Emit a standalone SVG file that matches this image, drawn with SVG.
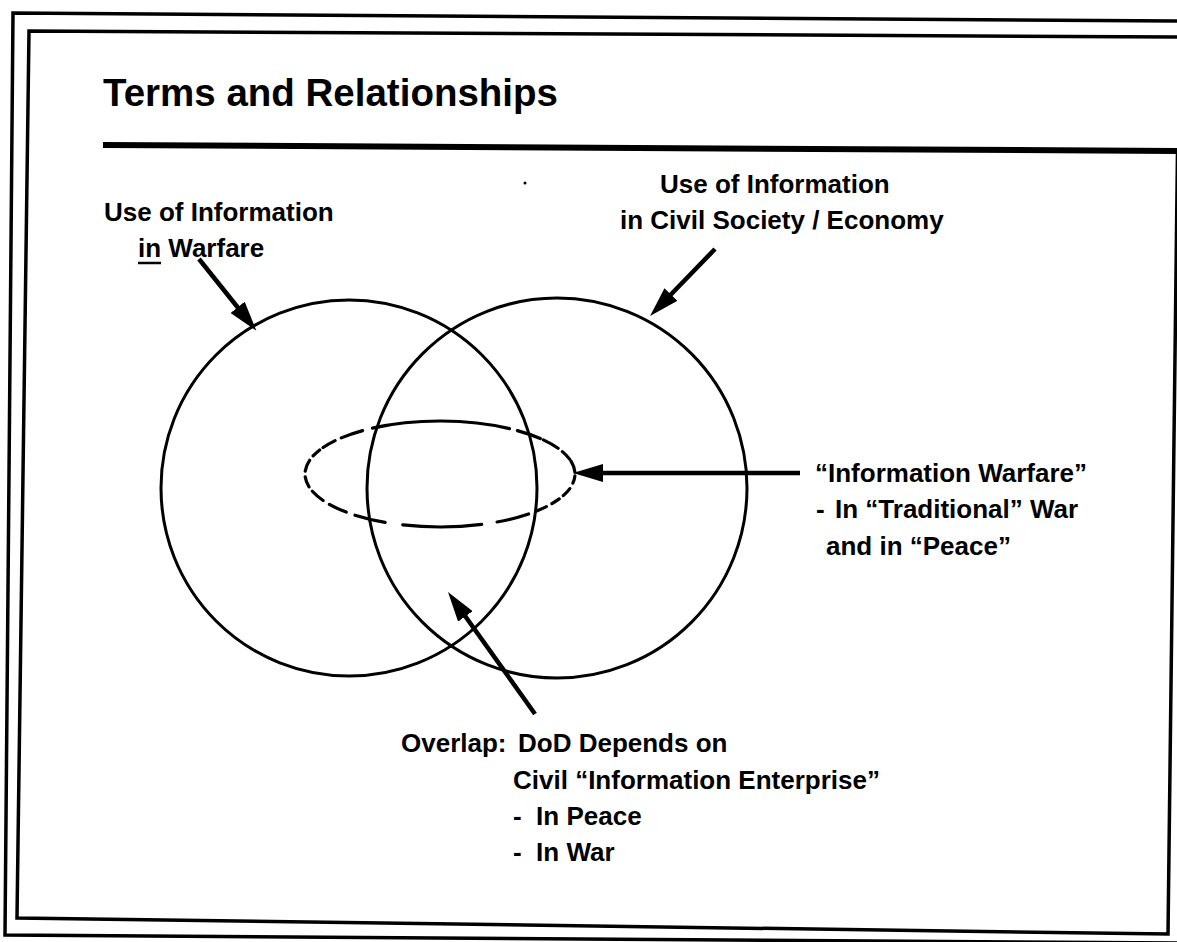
<svg xmlns="http://www.w3.org/2000/svg" width="1177" height="942" viewBox="0 0 1177 942">
<style>
.t{font-family:"Liberation Sans",Arial,Helvetica,sans-serif;font-weight:bold;font-size:26px;fill:#000}
.title{font-size:38.5px}
.frame{fill:none;stroke:#000;stroke-width:3.5}
.circ{fill:none;stroke:#000;stroke-width:3}
.dash{fill:none;stroke:#000;stroke-width:3.2;stroke-linecap:round}
.conn{stroke:#000;stroke-width:4.5;fill:none}
</style>
<defs>
<marker id="ah" markerUnits="userSpaceOnUse" markerWidth="32" markerHeight="20" refX="15" refY="9" orient="auto">
<path d="M0,0 L30,9 L0,18 Z" fill="#000"/>
</marker>
</defs>
<rect width="1177" height="942" fill="#fff"/>
<g id="frame">
<polyline class="frame" points="1177,21 13,13 5,935 1177,943"/>
<polyline class="frame" points="1177,37 29,31 17,918 1168,934 1177.5,150"/>
<line x1="103" y1="145" x2="1177" y2="151" stroke="#000" stroke-width="6"/>
<circle cx="525" cy="183" r="1.5" fill="#000"/>
</g>
<g id="title">
<text class="t title" x="103" y="106">Terms and Relationships</text>
</g>
<g id="warfare-circle">
<circle class="circ" cx="349" cy="488" r="188"/>
</g>
<g id="civil-circle">
<circle class="circ" cx="557" cy="488" r="190"/>
</g>
<g id="info-warfare-ellipse">
<path class="dash" d="M574.9,475.8 A135,53 0 0 1 572.9,483.2
M569.8,488.6 A135,53 0 0 1 563.3,495.6
M559.2,498.9 A135,53 0 0 1 551.9,503.6
M546.4,506.6 A135,53 0 0 1 537.1,510.8
M528.6,514.0 A135,53 0 0 1 497.1,522.0
M481.7,524.4 A135,53 0 0 1 402.8,524.9
M385.1,522.4 A135,53 0 0 1 355.0,515.2
M346.2,512.1 A135,53 0 0 1 329.4,504.4
M323.1,500.5 A135,53 0 0 1 312.4,491.3
M309.0,486.8 A135,53 0 0 1 305.2,476.8
M305.2,471.2 A135,53 0 0 1 309.6,460.3
M313.1,455.9 A135,53 0 0 1 319.7,449.9
M323.1,447.5 A135,53 0 0 1 335.1,440.6
M341.3,437.9 A135,53 0 0 1 362.6,430.6
M372.5,428.1 A135,53 0 0 1 509.5,428.6
M517.4,430.6 A135,53 0 0 1 540.3,438.5
M543.4,439.9 A135,53 0 0 1 558.1,448.3
M562.4,451.6 A135,53 0 0 1 569.8,459.4
M571.0,461.2 A135,53 0 0 1 574.9,472.2"/>
</g>
<g id="label-warfare">
<text class="t" x="104" y="221">Use of Information</text>
<text class="t" x="138" y="257">in Warfare</text>
<line x1="138" y1="263" x2="161" y2="263" stroke="#000" stroke-width="2.5"/>
</g>
<g id="label-civil">
<text class="t" x="660" y="193">Use of Information</text>
<text class="t" x="620" y="229">in Civil Society / Economy</text>
</g>
<g id="label-info-warfare">
<text class="t" x="815" y="482">“Information Warfare”</text>
<text class="t" x="816" y="518">-</text>
<text class="t" x="835" y="518">In “Traditional” War</text>
<text class="t" x="826" y="555">and in “Peace”</text>
</g>
<g id="label-overlap">
<text class="t" x="401" y="752">Overlap:</text>
<text class="t" x="518" y="752">DoD Depends on</text>
<text class="t" x="513" y="789">Civil “Information Enterprise”</text>
<text class="t" x="513" y="825" xml:space="preserve">-  In Peace</text>
<text class="t" x="513" y="861" xml:space="preserve">-  In War</text>
</g>
<g id="connectors">
<line class="conn" x1="199" y1="259" x2="247.0" y2="319.0" marker-end="url(#ah)"/>
<line class="conn" x1="715" y1="249" x2="660.5" y2="305.2" marker-end="url(#ah)"/>
<line class="conn" x1="800" y1="473" x2="588" y2="473" marker-end="url(#ah)"/>
<line class="conn" x1="535" y1="714" x2="456.7" y2="604.2" marker-end="url(#ah)"/>
</g>
</svg>
